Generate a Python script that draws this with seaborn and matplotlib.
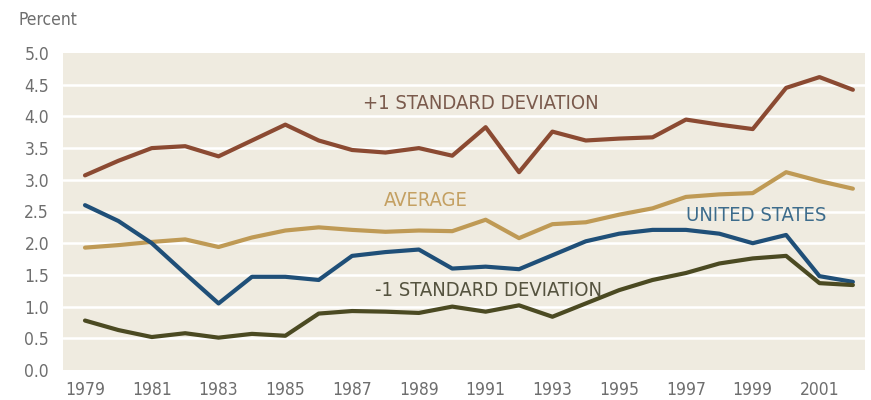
import pandas as pd
import seaborn as sns
import matplotlib.pyplot as plt

years = list(range(1979, 2003))

plus_sd = [3.07, 3.30, 3.50, 3.53, 3.37, 3.62, 3.87, 3.62, 3.47, 3.43, 3.50, 3.38,
           3.83, 3.12, 3.76, 3.62, 3.65, 3.67, 3.95, 3.87, 3.80, 4.45, 4.62, 4.42]
average = [1.93, 1.97, 2.02, 2.06, 1.94, 2.09, 2.20, 2.25, 2.21, 2.18, 2.20, 2.19,
           2.37, 2.08, 2.30, 2.33, 2.45, 2.55, 2.73, 2.77, 2.79, 3.12, 2.98, 2.86]
united_states = [2.60, 2.35, 2.00, 1.52, 1.05, 1.47, 1.47, 1.42, 1.80, 1.86, 1.90, 1.60,
                 1.63, 1.59, 1.81, 2.03, 2.15, 2.21, 2.21, 2.15, 2.00, 2.13, 1.48, 1.39]
minus_sd = [0.78, 0.63, 0.52, 0.58, 0.51, 0.57, 0.54, 0.89, 0.93, 0.92, 0.90, 1.00,
            0.92, 1.02, 0.84, 1.05, 1.26, 1.42, 1.53, 1.68, 1.76, 1.80, 1.37, 1.34]

series_names = ["+1 STANDARD DEVIATION", "AVERAGE", "UNITED STATES", "-1 STANDARD DEVIATION"]
line_colors = ["#8b4a32", "#bf9a55", "#1f4f78", "#4b4a22"]
text_colors = ["#7a5a4c", "#c4a062", "#3d6c8c", "#55533f"]
label_pos = [(1990.85, 4.2), (1989.2, 2.68), (1999.1, 2.44), (1991.1, 1.26)]

df = pd.DataFrame({
    "year": years * 4,
    "value": plus_sd + average + united_states + minus_sd,
    "series": [s for s in series_names for _ in years],
})

sns.set_style("white")
plt.rcParams["font.family"] = ["DejaVu Sans"]
plt.rcParams["font.stretch"] = "condensed"

fig = plt.figure(figsize=(8.71, 4.0), dpi=100)
ax = fig.add_axes([0.0723, 0.075, 0.9207, 0.7925])
ax.set_facecolor("#efebe0")

for yv in [0.5, 1.0, 1.5, 2.0, 2.5, 3.0, 3.5, 4.0, 4.5]:
    ax.axhline(yv, color="white", lw=1.8, zorder=1)

sns.lineplot(data=df, x="year", y="value", hue="series", palette=line_colors,
             hue_order=series_names, lw=3.0, legend=False, ax=ax, zorder=3)

for name, col, (lx, ly) in zip(series_names, text_colors, label_pos):
    ax.text(lx, ly, name, color=col, fontsize=14.5, ha="center", va="center", zorder=4)

ax.set_xlim(1978.34, 2002.36)
ax.set_ylim(0, 5)
ax.set_yticks([i * 0.5 for i in range(11)])
ax.set_yticklabels([f"{i * 0.5:.1f}" for i in range(11)])
ax.set_xticks(years, minor=True)
ax.set_xticks(years[::2])
ax.tick_params(axis="x", which="both", direction="in", length=6, width=1,
               color="#b0aca0", pad=8, labelsize=12.5, labelcolor="#6e6e6e")
ax.tick_params(axis="y", length=0, pad=10, labelsize=12.5, labelcolor="#6e6e6e")
ax.set_xlabel("")
ax.set_ylabel("")
for sp in ax.spines.values():
    sp.set_visible(False)

fig.text(0.021, 0.95, "Percent", fontsize=12.5, color="#6e6e6e", ha="left", va="center")

fig.savefig("out.png", dpi=100)
